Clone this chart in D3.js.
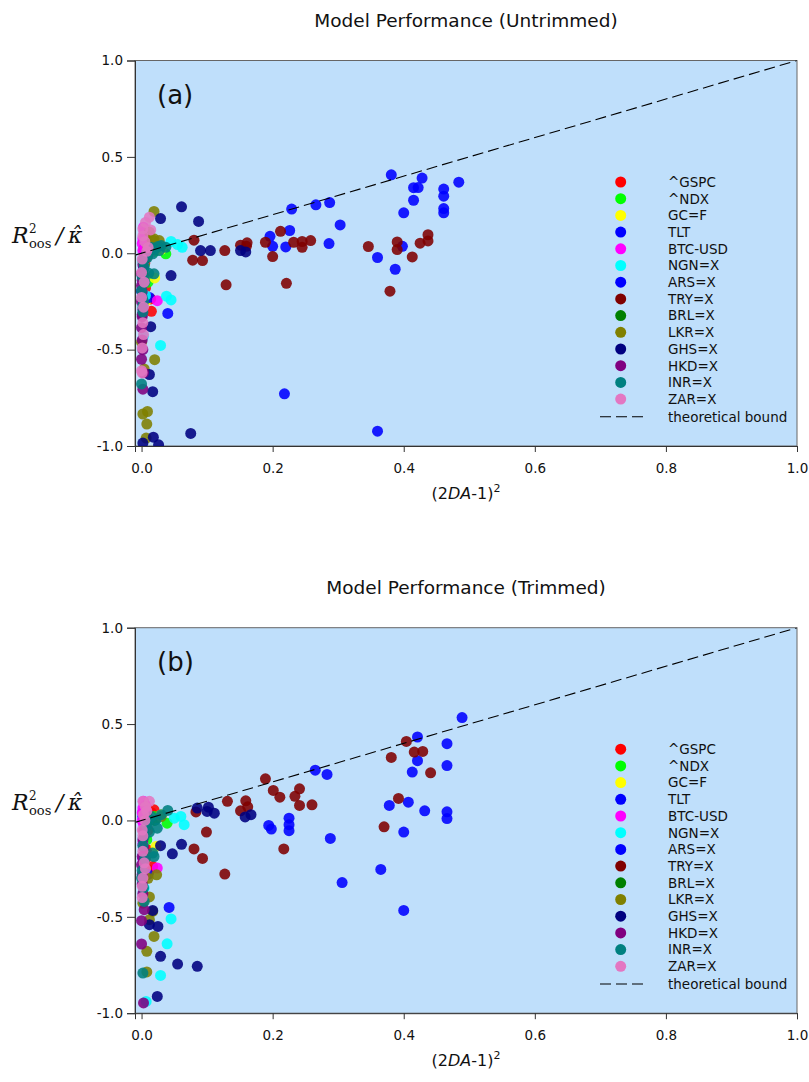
<!DOCTYPE html>
<html>
<head>
<meta charset="utf-8">
<script src="https://cdn.jsdelivr.net/npm/d3@7"></script>
<style>
  body { margin: 0; background: #fff; }
  text { font-family: "DejaVu Sans", Arial, sans-serif; fill: #111; }
</style>
</head>
<body>
<svg width="809" height="1082"></svg>
<script>
const seriesNames = ['^GSPC', '^NDX', 'GC=F', 'TLT', 'BTC-USD', 'NGN=X', 'ARS=X', 'TRY=X',
  'BRL=X', 'LKR=X', 'GHS=X', 'HKD=X', 'INR=X', 'ZAR=X'];
const seriesColors = ['#ff0000', '#00ff00', '#ffff00', '#0000ff', '#ff00ff', '#00ffff', '#0000ff', '#800000',
  '#008000', '#808000', '#000080', '#800080', '#008080', '#e377c2'];
const xTicks = [0, 0.2, 0.4, 0.6, 0.8, 1.0];
const yTicks = [-1, -0.5, 0, 0.5, 1];
const bound = [[-0.01, -0.01], [1, 1]];

// ---- (a) untrimmed ----
const gspcA = [[0.003,0.02],[0.005,-0.05],[0.014,-0.237],[0.015,-0.301],[0.004,-0.12],[0.008,0.04],[0.006,-0.18],
  [0.008,-0.02],[0.012,0.03]];
const ndxA = [[0.037,-0.003],[0.02,0.01],[0.004,-0.06],[0.01,-0.15]];
const gcA = [[0.020,-0.128],[0.012,0.05],[0.006,-0.25],[0.03,0.02]];
const tltA = [[0.0,-0.197],[0.012,-0.229],[0.003,-0.08],[0.005,0.03]];
const btcA = [[0.002,0.075],[0.002,0.014],[0.006,-0.003],[0.024,-0.246],[0.003,0.135],[0.001,0.05],
  [0.004,-0.04],[0.003,-0.15],[0.008,0.10],[0.006,0.02],[0.009,0.06],[0.012,0.0],[0.004,0.11]];
const ngnA = [[0.045,0.061],[0.062,0.031],[0.055,0.045],[0.038,-0.223],[0.045,-0.242],[0.029,-0.478],
  [0.006,-0.219],[0.003,-0.43],[0.01,0.0]];
const arsA = [[0.381,0.407],[0.428,0.390],[0.415,0.340],[0.422,0.341],[0.461,0.333],[0.484,0.369],
  [0.461,0.296],[0.415,0.275],[0.400,0.210],[0.461,0.232],[0.461,0.210],[0.287,0.263],[0.266,0.251],
  [0.229,0.229],[0.303,0.147],[0.226,0.118],[0.196,0.088],[0.200,0.036],[0.220,0.033],[0.286,0.050],
  [0.360,-0.022],[0.387,-0.083],[0.398,0.036],[0.218,-0.729],[0.360,-0.923],[0.040,-0.312]];
const tryA = [[0.080,0.068],[0.078,-0.036],[0.093,-0.038],[0.127,0.014],[0.129,-0.164],[0.151,0.042],
  [0.161,0.054],[0.160,0.036],[0.189,0.057],[0.200,-0.017],[0.212,0.114],[0.221,-0.156],[0.232,0.057],
  [0.245,0.061],[0.245,0.031],[0.258,0.066],[0.346,0.035],[0.390,0.059],[0.390,0.019],[0.379,-0.197],
  [0.413,-0.019],[0.425,0.052],[0.437,0.096],[0.437,0.064]];
const brlA = [[0.01,0.0],[0.005,-0.03],[0.015,0.02],[0.002,-0.1]];
const lkrA = [[0.019,0.217],[0.019,0.075],[0.027,0.066],[0.020,-0.552],[0.002,-0.834],[0.009,-0.821],
  [0.008,-0.886],[0.007,-0.959],[0.0,-0.462],[0.01,0.03],[0.004,-0.6],[0.016,0.07],[0.012,0.11]];
const ghsA = [[0.061,0.241],[0.087,0.165],[0.029,0.180],[0.090,0.014],[0.105,0.014],[0.151,0.014],
  [0.159,0.007],[0.045,-0.116],[0.014,-0.381],[0.012,-0.629],[0.017,-0.718],[0.075,-0.935],
  [0.018,-0.954],[0.026,-0.994],[0.002,-0.985]];
const hkdA = [[0.0,-0.106],[0.0,-0.168],[0.001,-0.329],[0.0,-0.386],[0.002,-0.705],[0.001,-0.318],
  [0.003,-0.03],[0.0,-0.25],[0.002,-0.06],[0.001,-0.14],[0.001,-0.2],[0.002,-0.29],[0.001,-0.45],
  [0.0,-0.55],[0.003,-0.62],[0.002,-0.5]];
const inrA = [[0.037,0.031],[0.027,0.014],[0.017,-0.003],[0.009,-0.021],[0.002,-0.038],[0.011,-0.104],
  [0.019,-0.107],[0.0,-0.194],[0.002,-0.272],[0.002,-0.306],[0.0,-0.678],[0.001,-0.229],[0.03,0.04],
  [0.004,-0.07],[0.02,0.02],[0.005,-0.15],[0.008,0.0],[0.015,0.03],[0.025,0.035],[0.001,-0.12],[0.003,-0.25]];
const zarA = [[0.012,0.187],[0.002,0.127],[0.014,0.121],[0.001,-0.491],[0.0,-0.609],[0.0,-0.229],
  [0.003,-0.422],[0.005,0.06],[0.002,0.09],[0.001,-0.03],[0.003,-0.28],[0.008,0.01],[0.01,0.03],
  [0.004,-0.15],[0.002,-0.36],[0.001,-0.62],[0.006,0.16],[0.0,-0.1]];

// ---- (b) trimmed ----
const gspcB = [[0.019,0.055],[0.017,-0.239],[0.005,0.03],[0.01,-0.05],[0.006,-0.2],[0.012,-0.26],[0.015,0.04],
  [0.01,0.0],[0.008,-0.15]];
const ndxB = [[0.039,-0.014],[0.02,0.02],[0.008,-0.1]];
const gcB = [[0.03,0.03],[0.022,-0.135],[0.015,0.01],[0.007,-0.28]];
const tltB = [[0.004,-0.05],[0.01,-0.28],[0.002,0.02]];
const btcB = [[0.002,0.064],[0.004,0.021],[0.024,-0.247],[0.001,0.04],[0.003,-0.02],[0.006,0.08],
  [0.002,-0.12],[0.004,-0.29],[0.002,-0.2],[0.001,0.0],[0.007,0.05],[0.01,0.02],[0.005,-0.06],[0.003,0.1]];
const ngnB = [[0.060,0.021],[0.065,-0.022],[0.050,0.012],[0.045,-0.511],[0.039,-0.640],[0.029,-0.804],
  [0.007,-0.939],[0.004,-0.35]];
const arsB = [[0.489,0.534],[0.421,0.433],[0.421,0.310],[0.413,0.251],[0.466,0.398],[0.466,0.285],
  [0.466,0.045],[0.466,0.010],[0.432,0.050],[0.407,0.095],[0.378,0.078],[0.400,-0.060],[0.400,-0.467],
  [0.365,-0.254],[0.306,-0.322],[0.288,-0.093],[0.283,0.239],[0.265,0.261],[0.225,0.012],[0.225,-0.022],
  [0.225,-0.053],[0.194,-0.026],[0.198,-0.045],[0.042,-0.451]];
const tryB = [[0.404,0.410],[0.416,0.355],[0.429,0.358],[0.381,0.327],[0.441,0.247],[0.392,0.114],
  [0.370,-0.033],[0.189,0.216],[0.201,0.156],[0.211,0.121],[0.241,0.164],[0.234,0.125],[0.241,0.078],
  [0.260,0.081],[0.159,0.102],[0.162,0.071],[0.151,0.050],[0.131,0.099],[0.099,-0.060],[0.080,-0.148],
  [0.093,-0.197],[0.127,-0.278],[0.217,-0.148],[0.083,0.044]];
const brlB = [[0.01,0.01],[0.02,0.0],[0.004,-0.06]];
const lkrB = [[0.023,-0.282],[0.012,-0.397],[0.002,-0.429],[0.012,-0.515],[0.019,-0.602],[0.008,-0.679],
  [0.008,-0.786],[0.017,-0.472],[0.03,0.02],[0.01,-0.3]];
const ghsB = [[0.085,0.064],[0.102,0.069],[0.111,0.038],[0.100,0.047],[0.158,0.018],[0.167,0.030],
  [0.029,-0.131],[0.047,-0.173],[0.061,-0.124],[0.029,-0.705],[0.055,-0.745],[0.085,-0.757],
  [0.024,-0.913],[0.017,-0.467],[0.012,-0.541],[0.025,-0.550]];
const hkdB = [[0.004,-0.463],[0.0,-0.641],[0.003,-0.947],[0.001,-0.187],[0.0,-0.230],[0.002,-0.1],
  [0.001,-0.33],[0.003,-0.05],[0.001,-0.28],[0.002,-0.38],[0.0,-0.52],[0.003,-0.14]];
const inrB = [[0.040,0.052],[0.030,0.030],[0.022,0.004],[0.024,-0.040],[0.004,-0.083],[0.017,-0.169],
  [0.019,-0.187],[0.004,-0.420],[0.002,-0.792],[0.0,-0.299],[0.01,-0.01],[0.002,-0.13],[0.003,-0.35],
  [0.015,0.02],[0.008,-0.03],[0.005,-0.2],[0.001,-0.26],[0.012,-0.06]];
const zarB = [[0.002,0.099],[0.012,0.099],[0.002,-0.299],[0.001,-0.342],[0.006,0.07],[0.003,0.03],
  [0.001,-0.05],[0.004,-0.22],[0.002,-0.16],[0.008,0.05],[0.005,0.0],[0.002,-0.08],[0.006,-0.25],[0.001,-0.4]];

const panelA = [gspcA, ndxA, gcA, tltA, btcA, ngnA, arsA, tryA, brlA, lkrA, ghsA, hkdA, inrA, zarA];
const panelB = [gspcB, ndxB, gcB, tltB, btcB, ngnB, arsB, tryB, brlB, lkrB, ghsB, hkdB, inrB, zarB];

const svg = d3.select('svg');
const left = 135, right = 797, plotH = 385.5;

function drawPanel(top, title, tag, sets) {
  const g = svg.append('g');
  const x = d3.scaleLinear().domain([-0.01, 1]).range([left, right]);
  const y = d3.scaleLinear().domain([-1, 1]).range([top + plotH, top]);

  g.append('rect')
    .attr('x', left).attr('y', top)
    .attr('width', right - left).attr('height', plotH)
    .attr('fill', '#bfdffb')
    .attr('stroke', '#666').attr('stroke-width', 1);

  const clip = 'clip' + tag;
  g.append('clipPath').attr('id', clip).append('rect')
    .attr('x', left).attr('y', top).attr('width', right - left).attr('height', plotH);

  const pts = g.append('g').attr('clip-path', `url(#${clip})`);
  sets.forEach((s, i) => {
    pts.selectAll(null).data(s).enter().append('circle')
      .attr('cx', d => x(d[0]))
      .attr('cy', d => y(d[1]))
      .attr('r', 5.5)
      .attr('fill', seriesColors[i])
      .attr('fill-opacity', 0.88);
  });

  // theoretical bound
  pts.append('path')
    .attr('d', d3.line().x(d => x(d[0])).y(d => y(d[1]))(bound))
    .attr('fill', 'none')
    .attr('stroke', '#000')
    .attr('stroke-width', 1.1)
    .attr('stroke-dasharray', '11,5');

  const yAxis = g.append('g')
    .attr('transform', `translate(${left},0)`)
    .call(d3.axisLeft(y).tickValues(yTicks).tickFormat(d => d.toFixed(1))
      .tickSizeOuter(0).tickSize(8).tickPadding(4));
  const xAxis = g.append('g')
    .attr('transform', `translate(0,${top + plotH})`)
    .call(d3.axisBottom(x).tickValues(xTicks).tickFormat(d => d.toFixed(1))
      .tickSizeOuter(0).tickSize(6).tickPadding(11));
  [yAxis, xAxis].forEach(a => {
    a.select('.domain').attr('stroke', '#333');
    a.selectAll('.tick line').attr('stroke', '#333');
    a.selectAll('.tick text').attr('font-size', 13.5).attr('font-family', '"DejaVu Sans", Arial, sans-serif')
      .attr('fill', '#111');
  });

  g.append('text')
    .attr('x', (left + right) / 2).attr('y', top - 33.5)
    .attr('text-anchor', 'middle')
    .attr('font-size', 18.5)
    .text(title);

  g.append('text')
    .attr('x', 157).attr('y', top + 43)
    .attr('font-size', 26)
    .text(`(${tag})`);

  // y label: R^2_oos / kappa-hat (superscript above subscript, kept apart)
  const yl = g.append('text')
    .attr('transform', `translate(0,${top + 182})`)
    .style('font-family', '"DejaVu Serif", serif');
  yl.append('tspan').attr('x', 12).attr('y', 0).attr('font-size', 22).attr('font-style', 'italic').text('R');
  yl.append('tspan').attr('x', 29).attr('y', -9.5).attr('font-size', 12).text('2');
  yl.append('tspan').attr('x', 29).attr('y', 5.5).attr('font-size', 13).text('oos');
  yl.append('tspan').attr('x', 56).attr('y', 0).attr('font-size', 22).attr('font-style', 'italic').text('/');
  yl.append('tspan').attr('x', 68).attr('y', 0).attr('font-size', 22).attr('font-style', 'italic')
    .text('\u03BA\u0302');

  const xl = g.append('text')
    .attr('x', (left + right) / 2).attr('y', top + plotH + 53)
    .attr('text-anchor', 'middle')
    .attr('font-size', 16);
  xl.append('tspan').text('(2');
  xl.append('tspan').attr('font-style', 'italic').text('DA');
  xl.append('tspan').text('-1)');
  xl.append('tspan').attr('dy', -7).attr('font-size', 11).text('2');

  // legend
  const lg = g.append('g').attr('transform', `translate(0,${top + 121.5})`);
  seriesNames.forEach((name, i) => {
    const row = lg.append('g').attr('transform', `translate(0,${i * 16.7})`);
    row.append('circle').attr('cx', 620.7).attr('cy', 0).attr('r', 5.5).attr('fill', seriesColors[i]);
    row.append('text').attr('x', 668).attr('y', 0).attr('dy', '0.36em')
      .attr('font-size', 13.5).text(name);
  });
  const lb = lg.append('g').attr('transform', `translate(0,${seriesNames.length * 16.7 + 1})`);
  lb.append('line').attr('x1', 600).attr('x2', 645).attr('y1', 0).attr('y2', 0)
    .attr('stroke', '#000').attr('stroke-width', 1.1).attr('stroke-dasharray', '11,5');
  lb.append('text').attr('x', 668).attr('y', 0).attr('dy', '0.36em')
    .attr('font-size', 13.5).text('theoretical bound');
}

drawPanel(60.5, 'Model Performance (Untrimmed)', 'a', panelA);
drawPanel(627.7, 'Model Performance (Trimmed)', 'b', panelB);
</script>
</body>
</html>
